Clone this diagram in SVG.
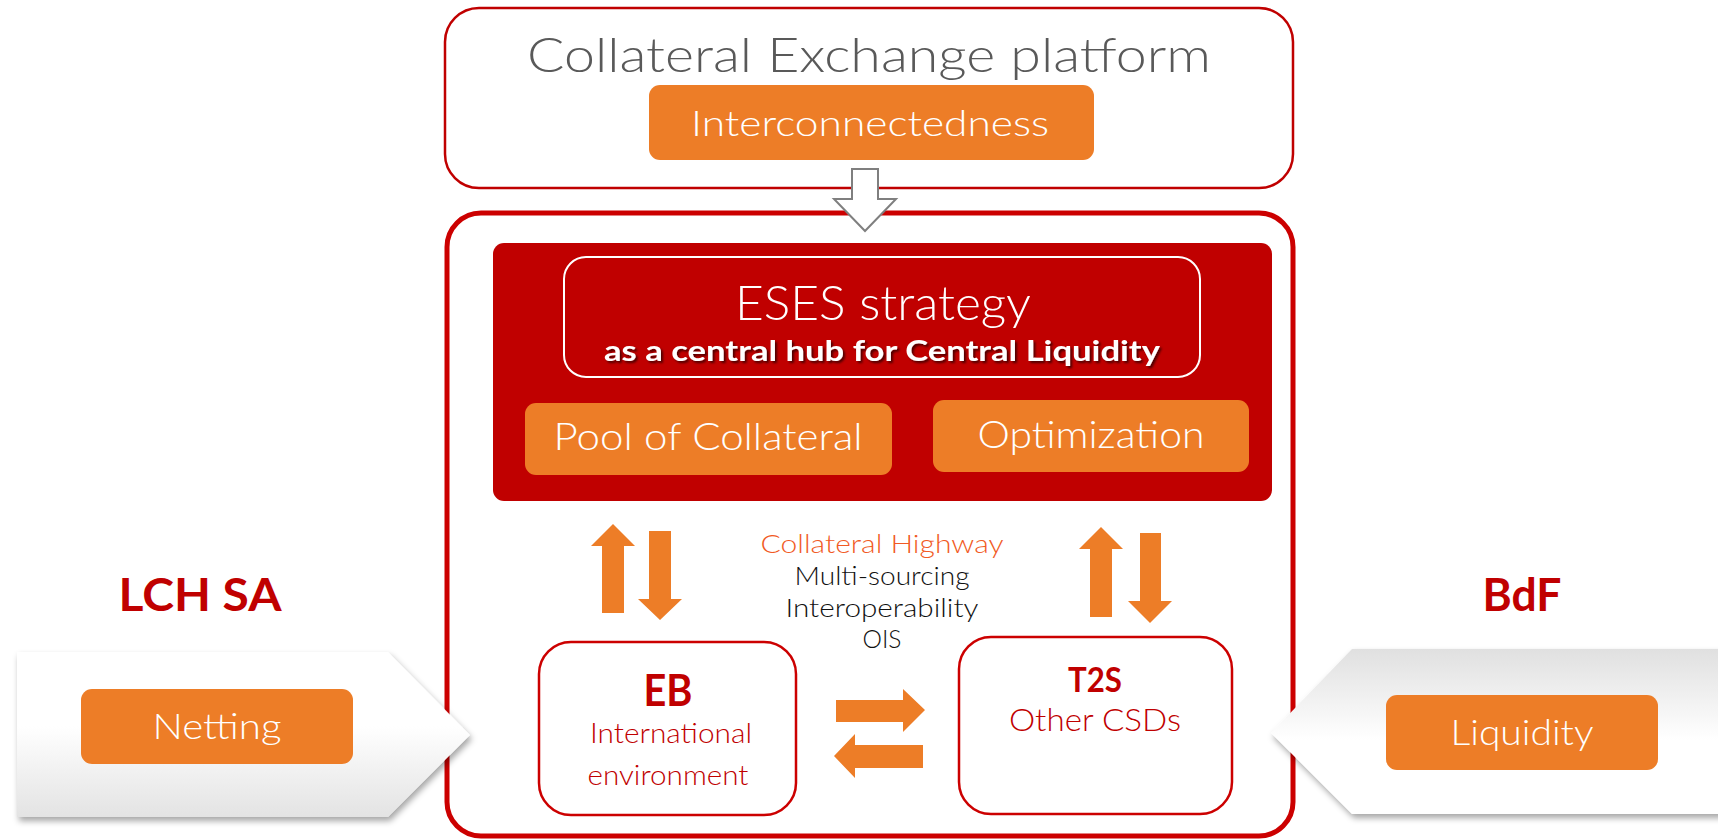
<svg xmlns="http://www.w3.org/2000/svg" width="1718" height="839" viewBox="0 0 1718 839">
<defs>
<style>
.txt{font-family:Lato,"Liberation Sans",sans-serif;font-weight:300;text-anchor:middle;}
.orange{fill:#ED7D27;}
.wtxt{fill:#ffffff;text-anchor:middle;font-family:Lato,"Liberation Sans",sans-serif;font-weight:300;}
.red{fill:#C00000;}
.bold{font-family:Lato,"Liberation Sans",sans-serif;font-weight:700;text-anchor:middle;}
.arrow{fill:#ED7D27;stroke:none;}
</style>
<linearGradient id="gNet" x1="0" y1="0" x2="0" y2="1">
<stop offset="0" stop-color="#ffffff"/>
<stop offset="0.45" stop-color="#ffffff"/>
<stop offset="1" stop-color="#e3e3e3"/>
</linearGradient>
<linearGradient id="gLiq" x1="0" y1="0" x2="0" y2="1">
<stop offset="0" stop-color="#e0e0e0"/>
<stop offset="0.55" stop-color="#ffffff"/>
<stop offset="1" stop-color="#ffffff"/>
</linearGradient>
<filter id="shadow" x="-10%" y="-10%" width="130%" height="130%">
<feDropShadow dx="2" dy="4" stdDeviation="3" flood-color="#000" flood-opacity="0.35"/>
</filter>
<filter id="tshadow" x="-5%" y="-20%" width="110%" height="150%">
<feDropShadow dx="2" dy="2" stdDeviation="1" flood-color="#000" flood-opacity="0.6"/>
</filter>
</defs>
<rect width="1718" height="839" fill="#ffffff"/>

<g id="hub">
<rect x="447" y="213" width="846" height="623" rx="34" fill="#ffffff" stroke="#CC0000" stroke-width="5"/>
</g>

<g id="lch">
<text x="200" y="611" class="bold red" font-size="45" textLength="163" lengthAdjust="spacingAndGlyphs">LCH SA</text>
<path d="M17,652 L388,652 L470,735 L388,817 L17,817 Z" fill="url(#gNet)" filter="url(#shadow)"/>
<rect x="81" y="689" width="272" height="75" rx="11" class="orange"/>
<text x="217" y="739" class="wtxt" font-size="35" textLength="129" lengthAdjust="spacingAndGlyphs">Netting</text>
</g>

<g id="bdf">
<text x="1522" y="611" class="bold red" font-size="45" textLength="79" lengthAdjust="spacingAndGlyphs">BdF</text>
<path d="M1725,649 L1352,649 L1271,733 L1352,814 L1725,814 Z" fill="url(#gLiq)" filter="url(#shadow)"/>
<rect x="1386" y="695" width="272" height="75" rx="11" class="orange"/>
<text x="1522" y="745" class="wtxt" font-size="36" textLength="143" lengthAdjust="spacingAndGlyphs">Liquidity</text>
</g>

<g id="platform">
<rect x="445" y="8" width="848" height="180" rx="34" fill="#ffffff" stroke="#C00000" stroke-width="2.5"/>
<text x="869" y="72" class="txt" font-size="47" fill="#595959" textLength="684" lengthAdjust="spacingAndGlyphs">Collateral Exchange platform</text>
<rect x="649" y="85" width="445" height="75" rx="11" class="orange"/>
<text x="870" y="136" class="wtxt" font-size="35" textLength="358" lengthAdjust="spacingAndGlyphs">Interconnectedness</text>
</g>

<g id="eses">
<rect x="493" y="243" width="779" height="258" rx="11" fill="#C00000"/>
<rect x="564" y="257" width="636" height="120" rx="22" fill="none" stroke="#ffffff" stroke-width="2"/>
<text x="883" y="320" class="wtxt" font-size="48" textLength="296" lengthAdjust="spacingAndGlyphs">ESES strategy</text>
<text x="882" y="361" class="bold" font-size="29" fill="#ffffff" filter="url(#tshadow)" textLength="556" lengthAdjust="spacingAndGlyphs">as a central hub for Central Liquidity</text>
</g>

<g id="pool">
<rect x="525" y="403" width="367" height="72" rx="11" class="orange"/>
<text x="708" y="450" class="wtxt" font-size="37" textLength="309" lengthAdjust="spacingAndGlyphs">Pool of Collateral</text>
</g>

<g id="optimization">
<rect x="933" y="400" width="316" height="72" rx="11" class="orange"/>
<text x="1091" y="448" class="wtxt" font-size="37" textLength="227" lengthAdjust="spacingAndGlyphs">Optimization</text>
</g>

<g id="highway">
<text x="882" y="553" class="txt" font-size="26" fill="#F15A24" textLength="243" lengthAdjust="spacingAndGlyphs">Collateral Highway</text>
<text x="882" y="585" class="txt" font-size="25" fill="#111111" textLength="175" lengthAdjust="spacingAndGlyphs">Multi-sourcing</text>
<text x="882" y="617" class="txt" font-size="25" fill="#111111" textLength="193" lengthAdjust="spacingAndGlyphs">Interoperability</text>
<text x="882" y="648" class="txt" font-size="25" fill="#111111" textLength="39" lengthAdjust="spacingAndGlyphs">OIS</text>
</g>

<g id="eb">
<rect x="539" y="642" width="257" height="173" rx="32" fill="#ffffff" stroke="#CC0000" stroke-width="2.5"/>
<text x="668" y="706" class="bold red" font-size="44" textLength="49" lengthAdjust="spacingAndGlyphs">EB</text>
<text x="671" y="743" class="txt" font-size="27" fill="#C00000" textLength="162" lengthAdjust="spacingAndGlyphs">International</text>
<text x="668" y="785" class="txt" font-size="27" fill="#C00000" textLength="161" lengthAdjust="spacingAndGlyphs">environment</text>
</g>

<g id="t2s">
<rect x="959" y="637" width="273" height="177" rx="32" fill="#ffffff" stroke="#CC0000" stroke-width="2.5"/>
<text x="1095" y="692" class="bold red" font-size="34" textLength="54" lengthAdjust="spacingAndGlyphs">T2S</text>
<text x="1095" y="731" class="txt" font-size="31" fill="#C00000" textLength="172" lengthAdjust="spacingAndGlyphs">Other CSDs</text>
</g>

<g id="connectors">
<path d="M852,169 L878,169 L878,199 L896,199 L865,231 L834,199 L852,199 Z" fill="#ffffff" stroke="#7F7F7F" stroke-width="2"/>
<path class="arrow" d="M613,524 L635,546 L624,546 L624,613 L602,613 L602,546 L591,546 Z"/>
<path class="arrow" d="M649,531 L671,531 L671,599 L682,599 L660,620 L638,599 L649,599 Z"/>
<path class="arrow" d="M1101,527 L1123,549 L1112,549 L1112,617 L1090,617 L1090,549 L1079,549 Z"/>
<path class="arrow" d="M1140,533 L1161,533 L1161,601 L1172,601 L1150,623 L1128,601 L1140,601 Z"/>
<path class="arrow" d="M836,700 L903,700 L903,689 L925,710 L903,732 L903,722 L836,722 Z"/>
<path class="arrow" d="M923,745 L855,745 L855,734 L834,756 L855,778 L855,768 L923,768 Z"/>
</g>
</svg>
